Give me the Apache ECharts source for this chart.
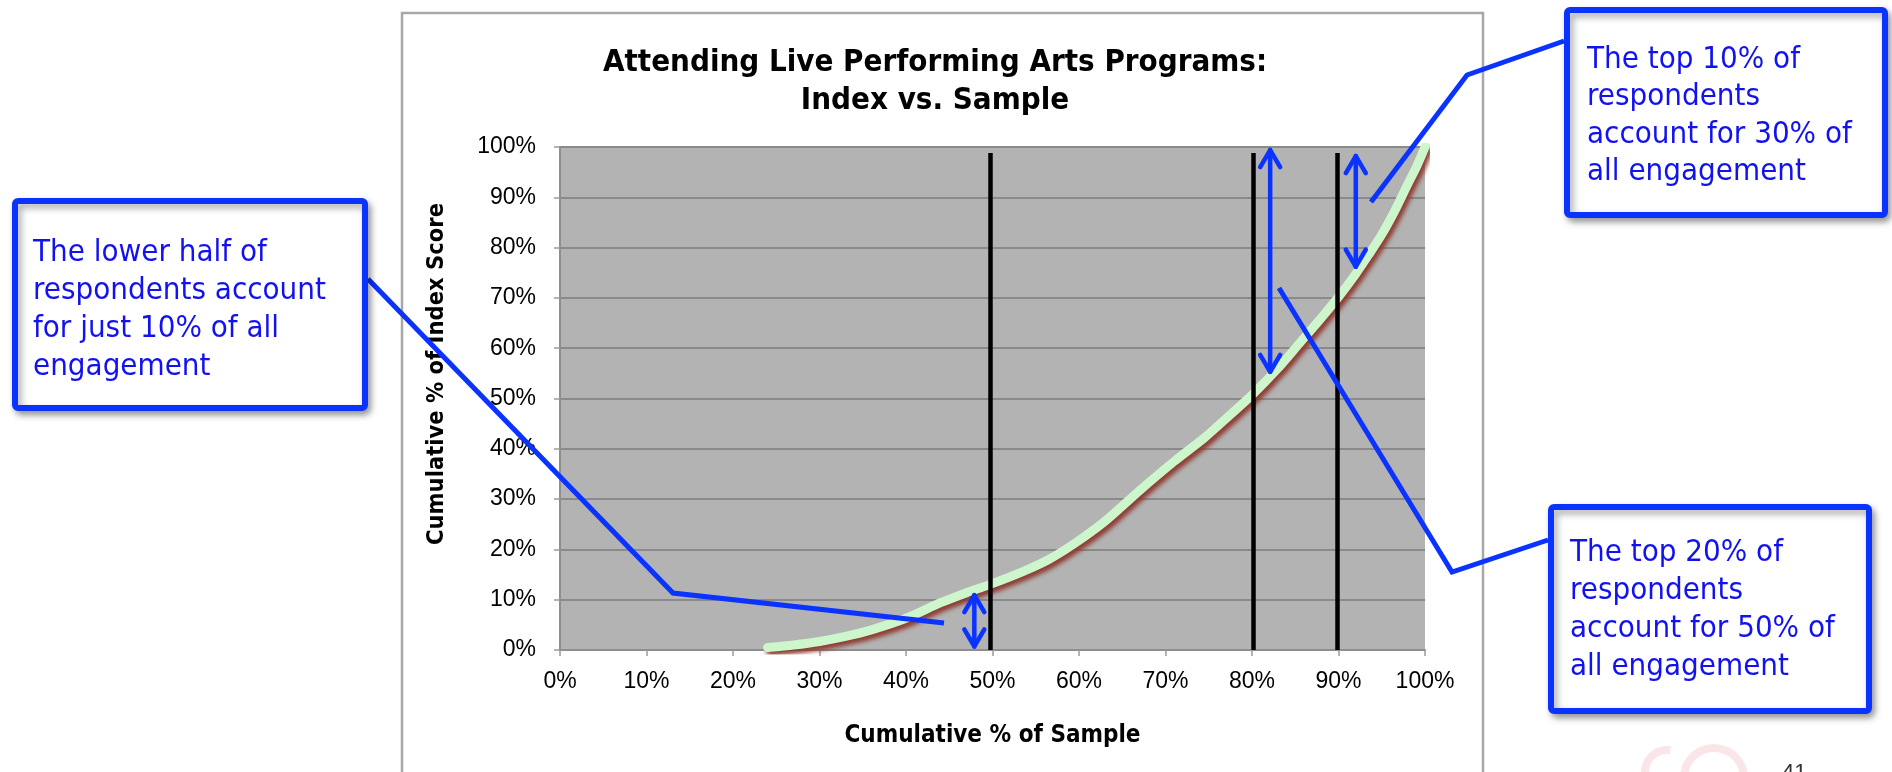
<!DOCTYPE html>
<html>
<head>
<meta charset="utf-8">
<script src="https://cdn.jsdelivr.net/npm/echarts@6/dist/echarts.min.js"></script>
<style>
html,body{margin:0;padding:0;background:#ffffff;}
#chart{width:1892px;height:772px;}
</style>
</head>
<body>
<div id="chart"></div>
<script>
// ---------- data ----------
const chartTitle = ['Attending Live Performing Arts Programs:', 'Index vs. Sample'];
const xAxisTitle = 'Cumulative % of Sample';
const yAxisTitle = 'Cumulative % of Index Score';
const axisTicks = [0, 10, 20, 30, 40, 50, 60, 70, 80, 90, 100];

// cumulative % of sample (x) and cumulative % of index score (y)
const sampleX = [24, 27, 30, 33, 36, 40, 44, 47, 49.5, 53.5, 56.5, 59.5, 63, 67, 71, 74.5, 77.5, 80, 83, 85.5, 88, 90, 92, 93.5, 95, 96.5, 98, 99, 100];
const indexY  = [0.5, 1.0, 1.7, 2.7, 4.0, 6.3, 9.4, 11.4, 12.9, 15.6, 18.0, 21.2, 25.6, 31.7, 37.5, 42.2, 46.8, 50.7, 56.0, 61.0, 66.0, 70.2, 74.8, 78.6, 82.6, 87.3, 92.6, 96.0, 100];

// vertical reference lines (x positions) and their top
const markerX = [49.7, 80.1, 89.9];
const markerTop = 98.8;

// double-headed arrows: x, bottom y, top y
const arrowX      = [47.9, 82.1, 92.0];
const arrowBottom = [0.7, 55.3, 76.2];
const arrowTop    = [10.9, 99.4, 98.2];

// annotation notes
const noteTexts = [
  'The lower half of\nrespondents account\nfor just 10% of all\nengagement',
  'The top 10% of\nrespondents\naccount for 30% of\nall engagement',
  'The top 20% of\nrespondents\naccount for 50% of\nall engagement'
];
const pageNumber = '41';

// ---------- chart ----------
const BLUE = '#0a33ff';
const TEXTBLUE = '#1212f0';
const chart = echarts.init(document.getElementById('chart'));

const curve = sampleX.map((x, i) => [x, indexY[i]]);

const axisCommon = {
  type: 'value', min: 0, max: 100, interval: 10,
  axisLine: { show: true, lineStyle: { color: '#8e8e8e', width: 2 } },
  axisTick: { show: true, inside: false, length: 6, lineStyle: { color: '#9a9a9a', width: 1.5 } },
  axisLabel: {
    formatter: '{value}%', color: '#000',
    fontFamily: '"Liberation Sans Narrow", "Liberation Sans", sans-serif', fontSize: 23
  }
};

chart.setOption({
  animation: false,
  backgroundColor: '#ffffff',
  grid: {
    left: 560, top: 147, width: 865, height: 503,
    show: true, backgroundColor: '#b3b3b3', borderWidth: 0,
    containLabel: false, outerBoundsMode: 'none'
  },
  xAxis: Object.assign({}, axisCommon, {
    splitLine: { show: false },
    axisLabel: Object.assign({}, axisCommon.axisLabel, { margin: 20 }),
    name: xAxisTitle, nameLocation: 'middle', nameGap: 74,
    nameTextStyle: { color: '#000', fontWeight: 'bold', fontSize: 24,
      fontFamily: '"DejaVu Sans Condensed", "DejaVu Sans", sans-serif' }
  }),
  yAxis: Object.assign({}, axisCommon, {
    splitLine: { show: true, lineStyle: { color: '#8a8a8a', width: 2 } },
    axisLabel: Object.assign({}, axisCommon.axisLabel, { margin: 24 })
  }),
  series: [
    {
      name: 'Index vs. Sample', type: 'line', data: curve,
      symbol: 'none', smooth: 0.25, z: 3, clip: true,
      lineStyle: {
        color: '#cdf6cd', width: 9, cap: 'round', join: 'round',
        shadowColor: 'rgba(140,55,45,0.95)', shadowBlur: 4, shadowOffsetX: 3, shadowOffsetY: 4
      }
    },
    {
      name: 'markers', type: 'line', data: [], z: 4,
      markLine: {
        silent: true, symbol: 'none', animation: false,
        label: { show: false },
        lineStyle: { color: '#000', width: 4.5, type: 'solid' },
        data: markerX.map(x => [{ coord: [x, 0] }, { coord: [x, markerTop] }])
      }
    }
  ]
});

// ---------- annotations ----------
const px = (x, y) => chart.convertToPixel({ gridIndex: 0 }, [x, y]);
const graphics = [];

// slide chart frame
graphics.push({ type: 'rect', z: -20, silent: true,
  shape: { x: 402, y: 13, width: 1081, height: 820 },
  style: { fill: '#ffffff', stroke: '#a8a8a8', lineWidth: 2.5 } });

// title
graphics.push({ type: 'text', z: 10, silent: true, x: 935, y: 44,
  style: { text: chartTitle.join('\n'), align: 'center', verticalAlign: 'top', lineHeight: 38,
    font: 'bold 31px "DejaVu Sans Condensed", "DejaVu Sans", sans-serif', fill: '#000' } });

// y-axis title
graphics.push({ type: 'text', z: 10, silent: true, x: 437, y: 374, rotation: Math.PI / 2,
  style: { text: yAxisTitle, align: 'center', verticalAlign: 'middle',
    font: 'bold 23.5px "DejaVu Sans Condensed", "DejaVu Sans", sans-serif', fill: '#000' } });

// double-headed arrows
arrowX.forEach((x, i) => {
  const top = px(x, arrowTop[i]);
  const bot = px(x, arrowBottom[i]);
  const s = { stroke: BLUE, lineWidth: 4.5, lineCap: 'round', lineJoin: 'round', fill: null };
  graphics.push({ type: 'line', z: 20, silent: true, shape: { x1: top[0], y1: top[1], x2: bot[0], y2: bot[1] }, style: s });
  graphics.push({ type: 'polyline', z: 20, silent: true, shape: { points: [[top[0] - 10, top[1] + 17], [top[0], top[1]], [top[0] + 10, top[1] + 17]] }, style: s });
  graphics.push({ type: 'polyline', z: 20, silent: true, shape: { points: [[bot[0] - 10, bot[1] - 17], [bot[0], bot[1]], [bot[0] + 10, bot[1] - 17]] }, style: s });
});

// connector lines
const connectors = [
  [[368, 279], [673, 593], [944, 623]],
  [[1564, 41], [1467, 75], [1371, 202]],
  [[1548, 540], [1452, 572], [1279, 288]]
];
connectors.forEach(pts => graphics.push({ type: 'polyline', z: 20, silent: true,
  shape: { points: pts }, style: { stroke: BLUE, lineWidth: 5, lineJoin: 'miter', fill: null } }));

// note boxes
const boxes = [
  { x: 15, y: 201, w: 350, h: 207, tx: 33, ty: 234, lh: 38 },
  { x: 1567, y: 10, w: 318, h: 205, tx: 1587, ty: 41, lh: 37.5 },
  { x: 1551, y: 507, w: 318, h: 204, tx: 1570, ty: 534, lh: 38 }
];
boxes.forEach((b, i) => {
  graphics.push({ type: 'rect', z: 30, silent: true,
    shape: { x: b.x, y: b.y, width: b.w, height: b.h, r: 3 },
    style: { fill: '#ffffff', stroke: BLUE, lineWidth: 6,
      shadowBlur: 7, shadowOffsetX: 3, shadowOffsetY: 4, shadowColor: 'rgba(0,0,0,0.35)' } });
  graphics.push({ type: 'text', z: 31, silent: true, x: b.tx, y: b.ty,
    style: { text: noteTexts[i], align: 'left', verticalAlign: 'top', lineHeight: b.lh,
      font: '31px "DejaVu Sans Condensed", "DejaVu Sans", sans-serif', fill: TEXTBLUE } });
});

// faint logo and page number
graphics.push({ type: 'arc', z: 1, silent: true, shape: { cx: 1667, cy: 772, r: 22, startAngle: Math.PI * 0.8, endAngle: Math.PI * 1.55 },
  style: { stroke: '#fae6e9', lineWidth: 8, fill: null } });
graphics.push({ type: 'arc', z: 1, silent: true, shape: { cx: 1714, cy: 778, r: 30, startAngle: Math.PI * 1.05, endAngle: Math.PI * 1.95 },
  style: { stroke: '#fae6e9', lineWidth: 8, fill: null } });
graphics.push({ type: 'text', z: 1, silent: true, x: 1782, y: 762,
  style: { text: pageNumber, font: '22px "Liberation Sans", sans-serif', fill: '#333', verticalAlign: 'top' } });

chart.setOption({ graphic: graphics });
</script>
</body>
</html>
